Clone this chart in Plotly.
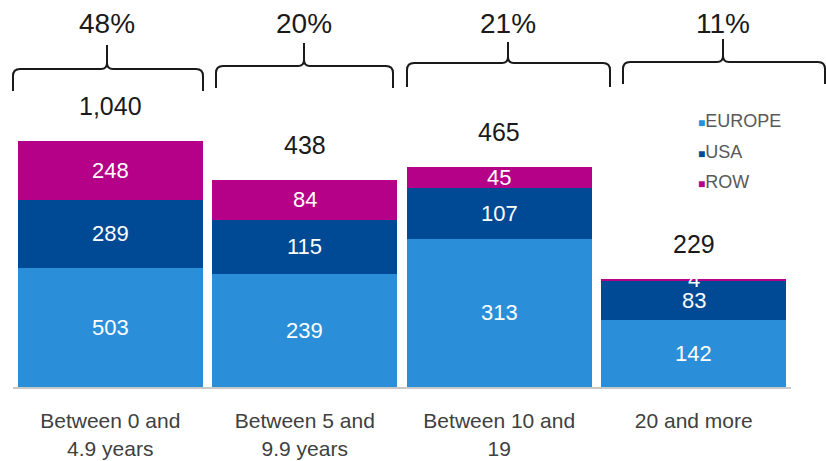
import plotly.graph_objects as go

# ---- data ----
categories = ["Between 0 and<br>4.9 years", "Between 5 and<br>9.9 years",
              "Between 10 and<br>19", "20 and more"]
europe = [503, 239, 313, 142]
usa = [289, 115, 107, 83]
row = [248, 84, 45, 4]
shares = ["48%", "20%", "21%", "11%"]
# the original chart draws the first (largest) bar compressed to half scale
display_scale = [0.5, 1, 1, 1]

series = [("EUROPE", europe, "#2A8FD8"), ("USA", usa, "#004995"), ("ROW", row, "#B50088")]

W, H = 826, 461
ML, MR, MT, MB = 13, 35, 0, 74
PW, PH = W - ML - MR, H - MT - MB
YMAX = 818

def px2paper_x(px):
    return (px - ML) / PW

def px2paper_y(py):
    return 1 - (py - MT) / PH

xs = list(range(len(categories)))
fig = go.Figure()
for name, vals, col in series:
    fig.add_trace(go.Bar(x=xs, y=[v * s for v, s in zip(vals, display_scale)],
                         name=name, marker=dict(color=col, line=dict(width=0)),
                         showlegend=False, hoverinfo="skip"))

annotations = []
# segment labels
base = [0.0] * len(xs)
for name, vals, col in series:
    for i, (v, s) in enumerate(zip(vals, display_scale)):
        h = v * s
        annotations.append(dict(x=i, y=base[i] + h / 2, xref="x", yref="y", text=str(v),
                                showarrow=False, xanchor="center", yanchor="middle",
                                font=dict(size=22, color="white")))
        base[i] += h
# totals
totals = [e + u + r for e, u, r in zip(europe, usa, row)]
for i, t in enumerate(totals):
    annotations.append(dict(x=i, y=base[i], xref="x", yref="y", text=f"{t:,}",
                            showarrow=False, yshift=35, xanchor="center", yanchor="middle",
                            font=dict(size=25, color="#1a1a1a")))

# braces with shares (decoration positioned in pixels)
braces = [(13, 203, 107, 69, 91, 45), (216, 393, 304, 66, 88, 43),
          (407, 610, 508, 63, 87, 42), (623, 825, 723, 62, 84, 39)]
shapes = []
for (x0, x1, tip, yh, ye, yt), sh in zip(braces, shares):
    r = 7
    X = px2paper_x
    Y = px2paper_y
    path = (f"M {X(x0)},{Y(ye)} L {X(x0)},{Y(yh + r)} Q {X(x0)},{Y(yh)} {X(x0 + r)},{Y(yh)} "
            f"L {X(tip - 6)},{Y(yh)} Q {X(tip)},{Y(yh)} {X(tip)},{Y(yh - 6)} L {X(tip)},{Y(yt)} "
            f"M {X(tip)},{Y(yh - 6)} Q {X(tip)},{Y(yh)} {X(tip + 6)},{Y(yh)} "
            f"L {X(x1 - r)},{Y(yh)} Q {X(x1)},{Y(yh)} {X(x1)},{Y(yh + r)} L {X(x1)},{Y(ye)}")
    shapes.append(dict(type="path", path=path, xref="paper", yref="paper",
                       line=dict(color="#1a1a1a", width=2)))
    annotations.append(dict(x=px2paper_x(tip), y=px2paper_y(23), xref="paper", yref="paper",
                            xanchor="center", yanchor="middle",
                            text=sh, showarrow=False, font=dict(size=28, color="#1a1a1a")))

# legend
leg_y = [121, 152, 182]
for (name, vals, col), ly in zip(series, leg_y):
    annotations.append(dict(x=px2paper_x(696), y=px2paper_y(ly), xref="paper", yref="paper",
                            xanchor="left", yanchor="middle", showarrow=False,
                            text=f"<span style='color:{col};font-size:12px'>■</span>{name}",
                            font=dict(size=18, color="#595959")))

fig.update_layout(
    width=W, height=H, margin=dict(l=ML, r=MR, t=MT, b=MB),
    barmode="stack", bargap=0.048,
    plot_bgcolor="white", paper_bgcolor="white",
    font=dict(family="Liberation Sans, Arial, sans-serif"),
    xaxis=dict(range=[-0.5, 3.5], tickvals=xs, ticktext=categories, showgrid=False,
               showline=True, linecolor="#c8c8c8", linewidth=2, ticks="",
               tickfont=dict(size=21, color="#404040"),
               ticklabelstandoff=14),
    yaxis=dict(range=[0, YMAX], visible=False, showgrid=False),
    shapes=shapes, annotations=annotations,
)
fig.write_html("out.html", config={"displayModeBar": False},
               post_script="document.body.style.margin='0';")
